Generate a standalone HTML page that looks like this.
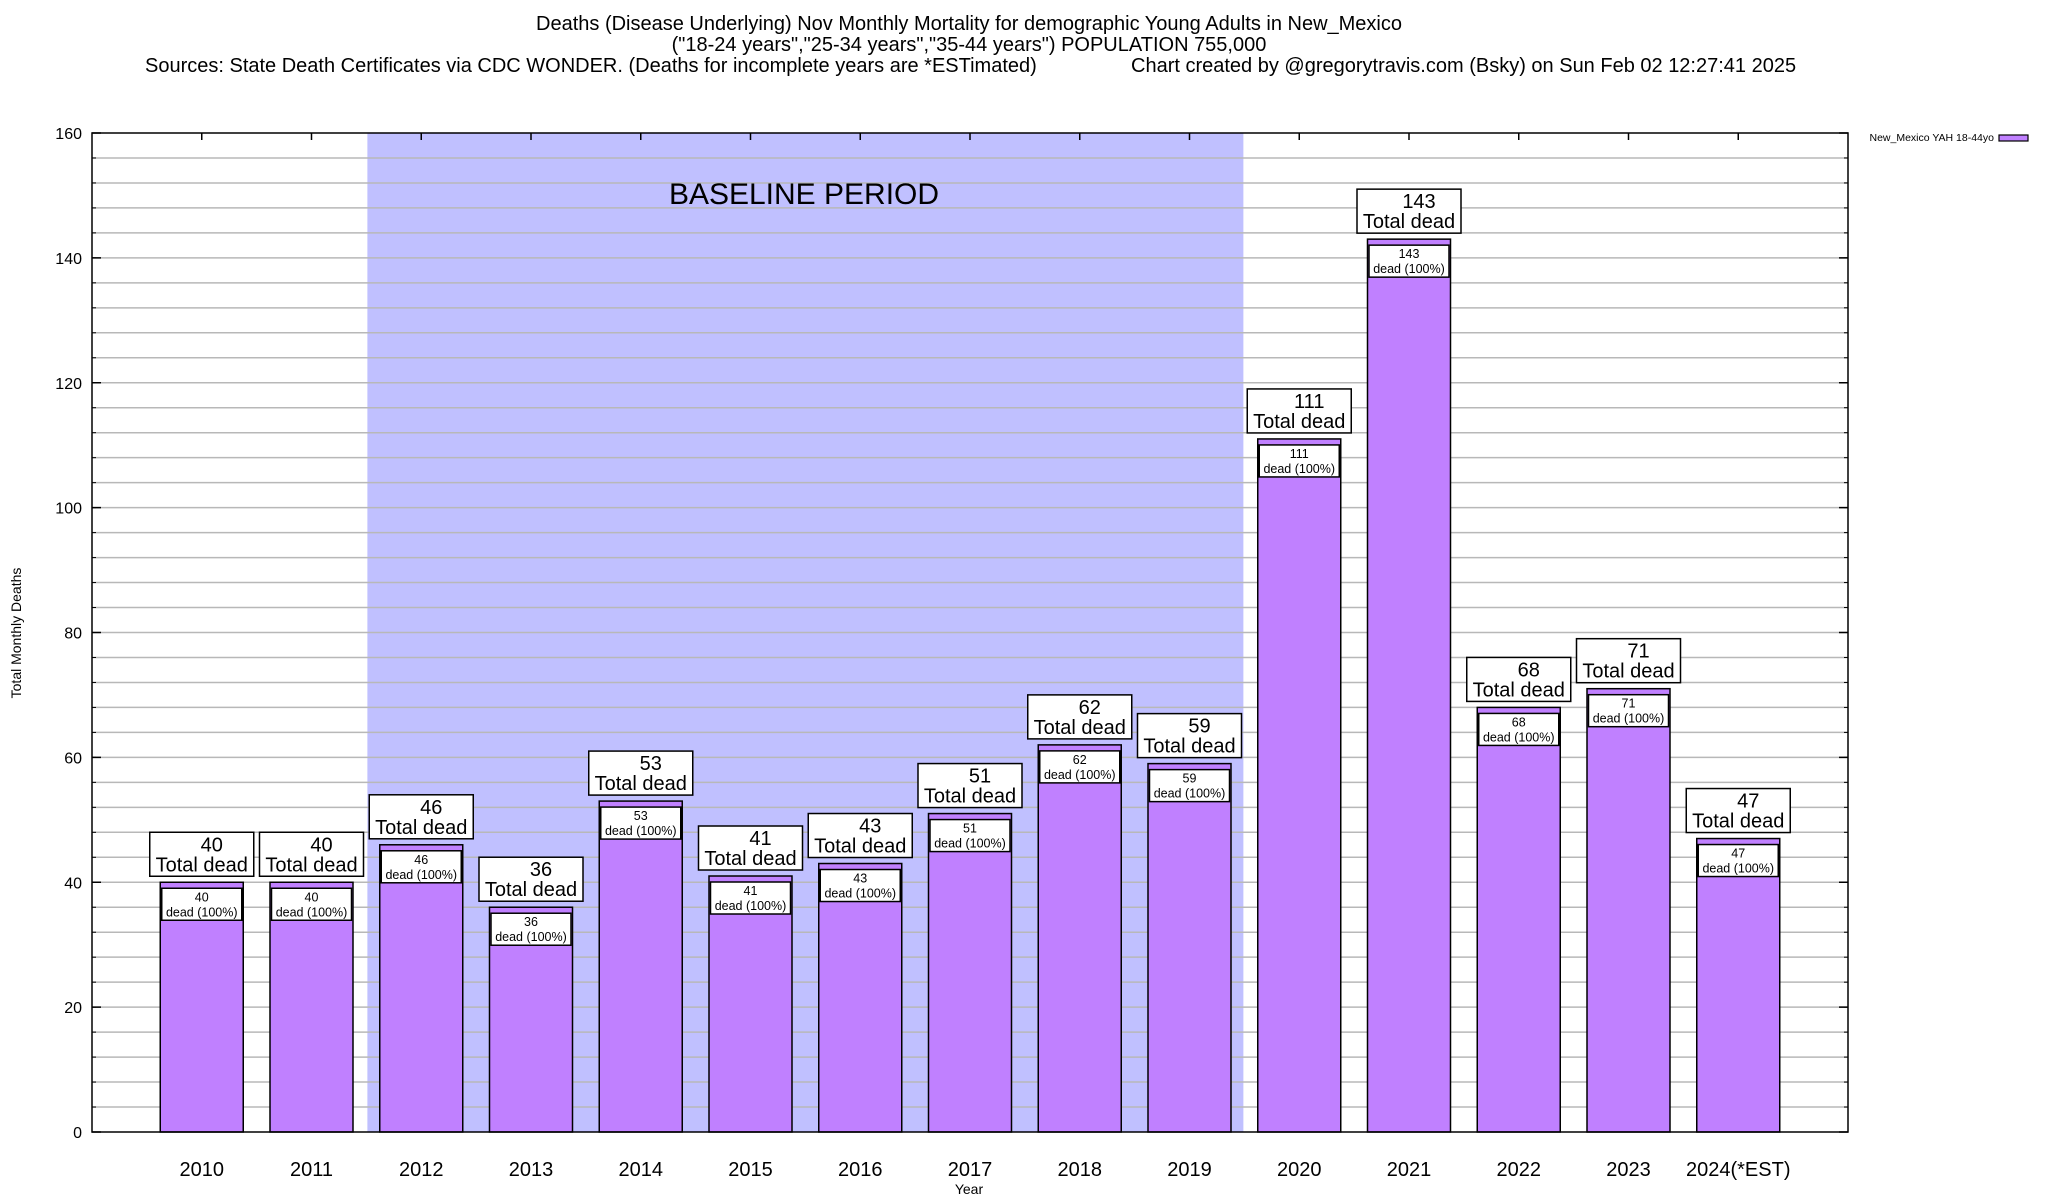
<!DOCTYPE html>
<html><head><meta charset="utf-8"><style>
html,body{margin:0;padding:0;background:#fff;}
svg{display:block;font-family:"Liberation Sans",Arial,sans-serif;}
</style></head><body>
<svg id="chart" width="2048" height="1200" viewBox="0 0 2048 1200">
<g font-size="20" fill="#000">
<text x="969" y="30" text-anchor="middle">Deaths (Disease Underlying) Nov Monthly Mortality for demographic Young Adults in New_Mexico</text>
<text x="969" y="51" text-anchor="middle">("18-24 years","25-34 years","35-44 years") POPULATION 755,000</text>
<text x="145" y="72">Sources: State Death Certificates via CDC WONDER. (Deaths for incomplete years are *ESTimated)</text>
<text x="1131" y="72">Chart created by @gregorytravis.com (Bsky) on Sun Feb 02 12:27:41 2025</text>
</g>
<g id="plot"></g>
</svg>
<script>
const categories=["2010","2011","2012","2013","2014","2015","2016","2017","2018","2019","2020","2021","2022","2023","2024(*EST)"];
const deaths=[40,40,46,36,53,41,43,51,62,59,111,143,68,71,47];
const yTicks=[0,20,40,60,80,100,120,140,160];
const baselineStart=2012, baselineEnd=2019;

const L=92,R=1848,T=133,B=1132,yMax=160;
const step=(R-L)/16;
function xC(i){return L+(i+1)*step;}
function y(v){return B-(v/yMax)*(B-T);}
const NS="http://www.w3.org/2000/svg";
const plot=document.getElementById('plot');
function mk(tag,attrs,parent,text){const e=document.createElementNS(NS,tag);for(const k in attrs)e.setAttribute(k,attrs[k]);if(text!==undefined)e.textContent=text;(parent||plot).appendChild(e);return e;}

// baseline shading
const bi0=categories.indexOf(String(baselineStart)), bi1=categories.indexOf(String(baselineEnd));
const sx0=(xC(bi0)+xC(bi0-1))/2+1, sx1=(xC(bi1)+xC(bi1+1))/2-1;
let sh=mk('rect',{x:sx0,y:T,width:sx1-sx0,height:B-T,fill:'#c0c0ff'});



// grid
for(let v=4;v<yMax;v+=4){
  let g=mk('line',{x1:L,x2:R,y1:y(v),y2:y(v),stroke:'#b8b8b8','stroke-width':1.5});
  
  
  let t1=mk('line',{x1:L,x2:L+4,y1:y(v),y2:y(v),stroke:'#000'});
  
  
  let t2=mk('line',{x1:R-4,x2:R,y1:y(v),y2:y(v),stroke:'#000'});
  
  
}
let bt=mk('text',{x:804,y:204,'font-size':30,'text-anchor':'middle'},plot,'BASELINE PERIOD');



// y ticks
yTicks.forEach(v=>{
  let t=mk('text',{x:82,y:y(v)+6,'font-size':16,'text-anchor':'end'},plot,String(v));
  
  
  let tk=mk('line',{x1:L,x2:L+9,y1:y(v),y2:y(v),stroke:'#000','stroke-width':1.5});
  
  
  let tk2=mk('line',{x1:R-9,x2:R,y1:y(v),y2:y(v),stroke:'#000','stroke-width':1.5});
  
  
});

// bars
categories.forEach((c,i)=>{
  const v=deaths[i], cx=xC(i), w=83, top=y(v);
  let b=mk('rect',{x:cx-w/2,y:top,width:w,height:B-top,fill:'#c080ff',stroke:'#000','stroke-width':1.5});
  
  
  let ib=mk('rect',{x:cx-w/2+1.5,y:top+6,width:w-3,height:32,fill:'#fff',stroke:'#000','stroke-width':1.5});
  
  
  let it1=mk('text',{x:cx,y:top+19,'font-size':12.5,'text-anchor':'middle'},plot,String(v));
  
  
  let it2=mk('text',{x:cx,y:top+34,'font-size':12.5,'text-anchor':'middle'},plot,'dead (100%)');
  
  
  let ob=mk('rect',{x:cx-52,y:top-50,width:104,height:44,fill:'#fff',stroke:'#000','stroke-width':1.5});
  
  
  let ot1=mk('text',{x:cx+10,y:top-31,'font-size':20,'text-anchor':'middle'},plot,String(v));
  
  
  let ot2=mk('text',{x:cx,y:top-11,'font-size':20,'text-anchor':'middle'},plot,'Total dead');
  
  
  let xl=mk('text',{x:cx,y:1176,'font-size':20,'text-anchor':'middle'},plot,c);
  
  
  let tt=mk('line',{x1:cx,x2:cx,y1:T,y2:T+7,stroke:'#000','stroke-width':1.5});
  
  
});

// frame
let fr=mk('rect',{x:L,y:T,width:R-L,height:B-T,fill:'none',stroke:'#000','stroke-width':1.5});



let yl=mk('text',{x:0,y:0,'font-size':14,'text-anchor':'middle',transform:'translate(21,633) rotate(-90)'},plot,'Total Monthly Deaths');


let xlab=mk('text',{x:969,y:1194,'font-size':14,'text-anchor':'middle'},plot,'Year');



// legend
let lt=mk('text',{x:1994,y:141,'font-size':10.5,'text-anchor':'end'},plot,'New_Mexico YAH 18-44yo');


let ls=mk('rect',{x:1999,y:135,width:29,height:6,fill:'#c080ff',stroke:'#000','stroke-width':1.2});


</script>
</body></html>
